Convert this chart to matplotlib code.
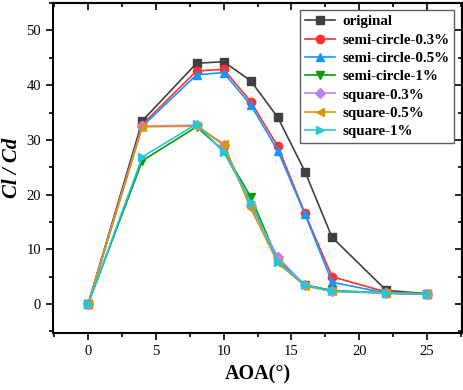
import matplotlib
matplotlib.use("Agg")
import matplotlib.pyplot as plt
from matplotlib.ticker import MultipleLocator

aoa = [0, 4, 8, 10, 12, 14, 16, 18, 22, 25]
original = [0, 33.5, 44.0, 44.3, 40.8, 34.1, 24.2, 12.2, 2.5, 1.9]
semi_03 = [0, 32.8, 42.6, 42.9, 37.0, 28.8, 16.6, 5.0, 2.2, 1.8]
semi_05 = [0, 32.5, 41.9, 42.3, 36.4, 28.0, 16.4, 4.0, 2.0, 1.8]
semi_1 = [0, 26.2, 32.4, 28.0, 19.6, 8.0, 3.5, 2.5, 2.0, 1.8]
square_03 = [0, 32.5, 32.7, 29.0, 18.0, 8.6, 3.4, 2.4, 2.0, 1.8]
square_05 = [0, 32.4, 32.5, 29.3, 17.5, 7.5, 3.3, 2.3, 2.0, 1.9]
square_1 = [0, 26.9, 32.9, 27.8, 18.7, 7.7, 3.5, 2.3, 2.1, 1.8]

series = [
    ("original", original, "#404040", "s"),
    ("semi-circle-0.3%", semi_03, "#ff3030", "o"),
    ("semi-circle-0.5%", semi_05, "#1496ff", "^"),
    ("semi-circle-1%", semi_1, "#089a08", "v"),
    ("square-0.3%", square_03, "#c07ff0", "D"),
    ("square-0.5%", square_05, "#d9960b", "<"),
    ("square-1%", square_1, "#20c8d8", ">"),
]

plt.rcParams['font.family'] = ['Liberation Serif', 'DejaVu Serif']
fig = plt.figure(figsize=(4.64, 3.9), dpi=100)
ax = fig.add_axes([0.114, 0.146, 0.882, 0.846])

for name, vals, col, mk in series:
    ms = 5 if mk == "D" else 6
    ax.plot(aoa, vals, color=col, marker=mk, markersize=ms, linewidth=1.2, label=name)

ax.set_xlim(-2.6, 27.6)
ax.set_ylim(-5.3, 55)
ax.xaxis.set_major_locator(MultipleLocator(5))
ax.xaxis.set_minor_locator(MultipleLocator(2.5))
ax.yaxis.set_major_locator(MultipleLocator(10))
ax.yaxis.set_minor_locator(MultipleLocator(5))
ax.tick_params(which='both', direction='out', top=False, right=False, labelsize=10.5, width=1.2)
ax.tick_params(which='major', length=5)
ax.tick_params(which='minor', length=3)
# inward ticks on top and right
ax2 = ax.secondary_xaxis('top')
ax2.xaxis.set_major_locator(MultipleLocator(5))
ax2.xaxis.set_minor_locator(MultipleLocator(2.5))
ax2.tick_params(which='both', direction='in', labeltop=False, width=1.2)
ax2.tick_params(which='major', length=5)
ax2.tick_params(which='minor', length=3)
ax3 = ax.secondary_yaxis('right')
ax3.yaxis.set_major_locator(MultipleLocator(10))
ax3.yaxis.set_minor_locator(MultipleLocator(5))
ax3.tick_params(which='both', direction='in', labelright=False, width=1.2)
ax3.tick_params(which='major', length=5)
ax3.tick_params(which='minor', length=3)

for s in ax.spines.values():
    s.set_linewidth(1.5)
ax2.spines['top'].set_linewidth(1.5)
ax3.spines['right'].set_linewidth(1.5)

ax.set_xlabel("AOA(°)", fontsize=14.5, fontweight='bold', labelpad=5)
ax.set_ylabel("Cl / Cd", fontsize=15, fontweight='bold', style='italic', labelpad=3)

leg = ax.legend(loc='upper right', bbox_to_anchor=(0.981, 0.979), prop={'weight': 'bold', 'size': 10.8},
                frameon=True, fancybox=False, edgecolor='#333333', handlelength=2.0,
                labelspacing=0.32, borderpad=0.33, handletextpad=0.5, borderaxespad=0.0)
leg.get_frame().set_linewidth(1.0)

fig.savefig("out.png", dpi=100)
